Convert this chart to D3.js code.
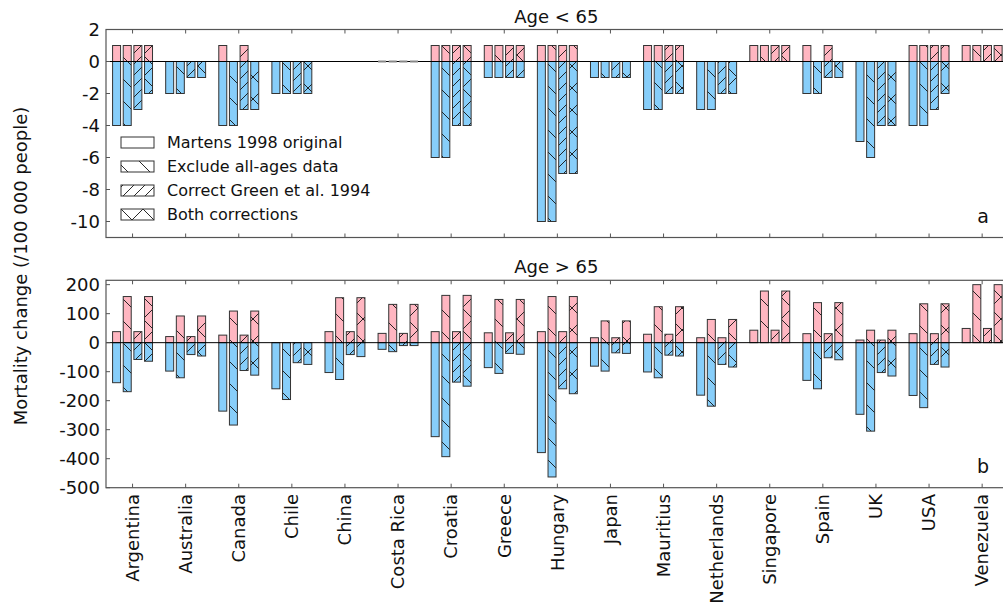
<!DOCTYPE html>
<html><head><meta charset="utf-8">
<script src="https://cdn.jsdelivr.net/npm/d3@7"></script>
<style>body{margin:0;background:#fff} text{font-family:"DejaVu Sans",sans-serif;fill:#111}</style>
</head><body><svg id="c" width="1003" height="608"></svg>
<script>
const countries = ["Argentina","Australia","Canada","Chile","China","Costa Rica","Croatia","Greece","Hungary","Japan","Mauritius","Netherlands","Singapore","Spain","UK","USA","Venezuela"];
const seriesNames = ["Martens 1998 original","Exclude all-ages data","Correct Green et al. 1994","Both corrections"];
const youngTicks = [2,0,-2,-4,-6,-8,-10];
const oldTicks = [200,100,0,-100,-200,-300,-400,-500];

// Age < 65 (null = no data)
const young_original_pos = [1,0,1,0,null,0,1,1,1,0,1,0,1,1,0,1,1];
const young_original_neg = [-4,-2,-4,-2,null,0,-6,-1,-10,-1,-3,-3,0,-2,-5,-4,0];
const young_exclude_pos  = [1,0,0,0,null,0,1,1,1,0,1,0,1,0,0,1,1];
const young_exclude_neg  = [-4,-2,-4,-2,null,0,-6,-1,-10,-1,-3,-3,0,-2,-6,-4,0];
const young_green_pos    = [1,0,1,0,null,0,1,1,1,0,1,0,1,1,0,1,1];
const young_green_neg    = [-3,-1,-3,-2,null,0,-4,-1,-7,-1,-2,-2,0,-1,-4,-3,0];
const young_both_pos     = [1,0,0,0,null,0,1,1,1,0,1,0,1,0,0,1,1];
const young_both_neg     = [-2,-1,-3,-2,null,0,-4,-1,-7,-1,-2,-2,0,-1,-4,-2,0];

// Age > 65
const old_original_pos = [38,21,26,0,38,32,38,34,38,17,29,17,43,31,9,31,49];
const old_original_neg = [-138,-98,-236,-159,-103,-23,-324,-86,-379,-81,-101,-181,0,-130,-247,-182,0];
const old_exclude_pos  = [159,92,109,0,155,132,163,149,159,75,124,80,178,138,43,134,200];
const old_exclude_neg  = [-169,-121,-284,-196,-127,-31,-393,-106,-463,-98,-121,-219,0,-159,-305,-224,0];
const old_green_pos    = [38,21,26,0,38,32,38,34,38,17,29,17,43,31,9,31,49];
const old_green_neg    = [-58,-41,-96,-69,-41,-10,-136,-37,-159,-35,-43,-75,0,-52,-103,-75,0];
const old_both_pos     = [159,92,109,0,155,132,163,149,159,75,124,80,178,138,43,134,200];
const old_both_neg     = [-64,-46,-112,-75,-48,-10,-150,-40,-176,-37,-46,-84,0,-59,-115,-84,0];

const PINK = "#ffb6c1", BLUE = "#87cefa", FRAME = "#555";
const svg = d3.select("#c");
const defs = svg.append("defs");
function makePattern(id, P, back, fwd){
  const p = defs.append("pattern").attr("id",id).attr("patternUnits","userSpaceOnUse")
    .attr("width",P).attr("height",P);
  let d = "";
  if(back) d += `M0,0L${P},${P}M${-P/2},${P/2}L${P/2},${1.5*P}M${P/2},${-P/2}L${1.5*P},${P/2}`;
  if(fwd) d += `M0,${P}L${P},0M${-P/2},${P/2}L${P/2},${-P/2}M${P/2},${1.5*P}L${1.5*P},${P/2}`;
  p.append("path").attr("d",d).attr("stroke","#111").attr("stroke-width",0.9).attr("fill","none");
}
makePattern("h1", 22, true, false);
makePattern("h2", 11, false, true);
makePattern("h3", 22, true, true);
const hatchIds = [null, "h1", "h2", "h3"];

const xLeft = 106, step = 53.1;
const x = d3.scaleBand().domain(countries).range([xLeft, xLeft + step*countries.length]);
const sub = d3.scaleBand().domain([0,1,2,3]).range([-21.3, 21.3]).paddingInner(0.25).paddingOuter(0.125);

function panel(cfg){
  const y = d3.scaleLinear().domain(cfg.domain).range([cfg.bottom, cfg.top]);
  const g = svg.append("g");
  const bw = sub.bandwidth();
  const zeroBars = [];
  cfg.series.forEach((s, si) => {
    countries.forEach((c, i) => {
      const pv = s.pos[i], nv = s.neg[i];
      if(pv === null || nv === null) return;
      const x0 = x(c) + x.bandwidth()/2 + sub(si);
      const parts = [];
      if(pv === 0 && nv === 0){ zeroBars.push(x0); return; }
      if(pv !== 0) parts.push([pv, PINK]);
      if(nv !== 0) parts.push([nv, BLUE]);
      parts.forEach(([v, col]) => {
        const ya = y(Math.max(0,v)), yb = y(Math.min(0,v));
        g.append("rect").attr("x",x0).attr("y",ya).attr("width",bw).attr("height",yb-ya)
          .attr("fill",col);
        if(hatchIds[si]) g.append("rect").attr("x",x0).attr("y",ya).attr("width",bw).attr("height",yb-ya)
          .attr("fill",`url(#${hatchIds[si]})`);
        g.append("rect").attr("x",x0).attr("y",ya).attr("width",bw).attr("height",yb-ya)
          .attr("fill","none").attr("stroke","#333").attr("stroke-width",1);
      });
    });
  });
  // zero line
  g.append("line").attr("x1",xLeft).attr("x2",1010).attr("y1",y(0)).attr("y2",y(0))
    .attr("stroke","#000").attr("stroke-width",1);
  // zero-height bars
  zeroBars.forEach(x0 => {
    g.append("line").attr("x1",x0).attr("x2",x0+bw).attr("y1",y(0)).attr("y2",y(0))
      .attr("stroke","#888").attr("stroke-width",2);
  });
  // frame
  g.append("rect").attr("x",xLeft).attr("y",cfg.top).attr("width",step*countries.length).attr("height",cfg.bottom-cfg.top)
    .attr("fill","none").attr("stroke",FRAME).attr("stroke-width",1.2);
  // x ticks (inward, top and bottom)
  countries.forEach(c => {
    const cx = x(c) + x.bandwidth()/2;
    g.append("line").attr("x1",cx).attr("x2",cx).attr("y1",cfg.top).attr("y2",cfg.top+4).attr("stroke",FRAME);
    g.append("line").attr("x1",cx).attr("x2",cx).attr("y1",cfg.bottom).attr("y2",cfg.bottom-4).attr("stroke",FRAME);
  });
  // y ticks & labels
  cfg.ticks.forEach(t => {
    g.append("line").attr("x1",xLeft).attr("x2",xLeft+4).attr("y1",y(t)).attr("y2",y(t)).attr("stroke",FRAME);
    g.append("text").attr("x",100).attr("y",y(t)).attr("dy","0.35em").attr("text-anchor","end")
      .attr("font-size",18).text(t);
  });
  g.append("text").attr("x",xLeft + step*countries.length/2 - 1).attr("y",cfg.top-7).attr("text-anchor","middle")
    .attr("font-size",18).text(cfg.title);
  g.append("text").attr("x",983).attr("y",cfg.bottom-15).attr("text-anchor","middle")
    .attr("font-size",19).text(cfg.letter);
  return y;
}

panel({top:29.5, bottom:237.5, domain:[-11,2], ticks:youngTicks, title:"Age < 65", letter:"a",
  series:[{pos:young_original_pos,neg:young_original_neg},{pos:young_exclude_pos,neg:young_exclude_neg},
          {pos:young_green_pos,neg:young_green_neg},{pos:young_both_pos,neg:young_both_neg}]});
panel({top:280.3, bottom:487.7, domain:[-500,215], ticks:oldTicks, title:"Age > 65", letter:"b",
  series:[{pos:old_original_pos,neg:old_original_neg},{pos:old_exclude_pos,neg:old_exclude_neg},
          {pos:old_green_pos,neg:old_green_neg},{pos:old_both_pos,neg:old_both_neg}]});

// x labels
countries.forEach(c => {
  const cx = x(c) + x.bandwidth()/2;
  svg.append("text").attr("transform",`translate(${cx},494) rotate(-90)`).attr("dy","0.35em")
    .attr("text-anchor","end").attr("font-size",18).text(c);
});

// y label
svg.append("text").attr("transform","translate(21,266) rotate(-90)").attr("dy","0.35em")
  .attr("text-anchor","middle").attr("font-size",18).text("Mortality change (/100 000 people)");

// legend
const lg = svg.append("g");
seriesNames.forEach((n, i) => {
  const yy = 137 + i*24;
  lg.append("rect").attr("x",121).attr("y",yy).attr("width",33).attr("height",11).attr("fill","#fff");
  if(hatchIds[i]) lg.append("rect").attr("x",121).attr("y",yy).attr("width",33).attr("height",11).attr("fill",`url(#${hatchIds[i]})`);
  lg.append("rect").attr("x",121).attr("y",yy).attr("width",33).attr("height",11).attr("fill","none")
    .attr("stroke","#333").attr("stroke-width",1);
  lg.append("text").attr("x",167).attr("y",yy+5.5).attr("dy","0.35em").attr("font-size",16).text(n);
});
</script></body></html>
